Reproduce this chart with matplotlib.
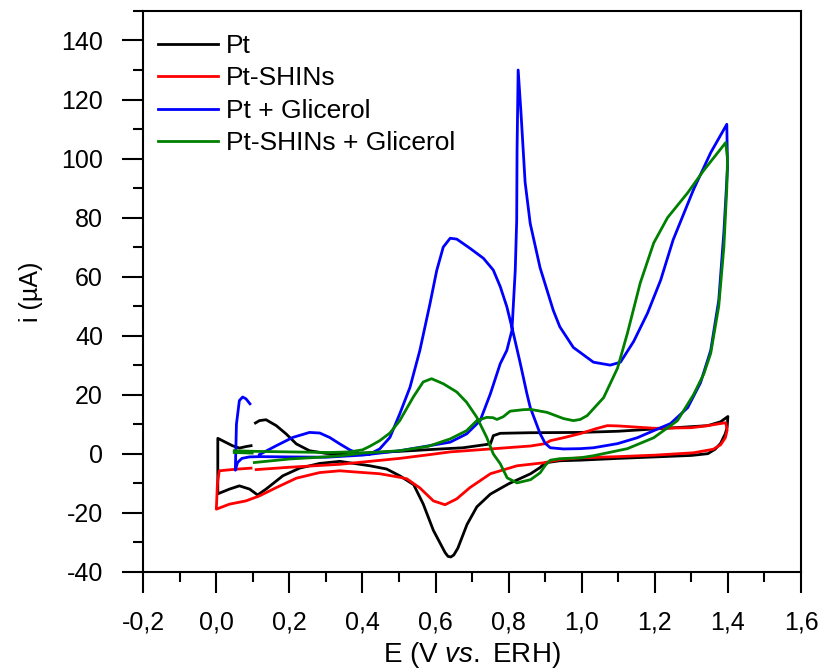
import matplotlib
matplotlib.use('Agg')
import matplotlib.pyplot as plt
from matplotlib.ticker import MultipleLocator, FuncFormatter

plt.rcParams['font.family'] = ['Liberation Sans', 'DejaVu Sans']
plt.rcParams['mathtext.fontset'] = 'custom'
plt.rcParams['mathtext.rm'] = 'Liberation Sans'
plt.rcParams['mathtext.it'] = 'Liberation Sans:italic'

# Pt (black)
pt_E = [0.107, 0.118, 0.136, 0.164, 0.191, 0.219, 0.255, 0.300, 0.338, 0.400, 0.502, 0.600,
        0.675, 0.750, 0.755, 0.758, 0.777, 0.859, 0.996, 1.100, 1.216, 1.345, 1.380, 1.400,
        1.398, 1.393, 1.380, 1.365, 1.345, 1.300, 1.200, 1.100, 0.996, 0.940, 0.900, 0.886,
        0.860, 0.800, 0.750, 0.713, 0.686, 0.661, 0.650, 0.642, 0.634, 0.626, 0.594, 0.566,
        0.540, 0.502, 0.466, 0.420, 0.338, 0.283, 0.228, 0.182, 0.136, 0.113, 0.091, 0.063,
        0.036, 0.004, 0.004, 0.020, 0.044, 0.063, 0.081, 0.095]
pt_i = [10.4, 11.2, 11.5, 9.5, 6.7, 3.3, 1.0, 0.1, -0.1, 0.2, 0.8, 1.5,
        2.0, 3.3, 5.0, 6.1, 6.9, 7.1, 7.2, 7.6, 8.5, 9.5, 10.8, 12.6,
        9.0, 6.8, 3.5, 1.5, 0.0, -0.6, -1.1, -1.6, -2.2, -2.4, -3.1, -4.7,
        -6.8, -10.2, -13.7, -18.0, -24.0, -32.0, -34.3, -35.0, -34.8, -33.5, -26.0, -17.0,
        -10.5, -7.5, -5.2, -4.1, -2.6, -3.3, -4.9, -7.5, -12.0, -14.0, -12.0, -10.9,
        -12.0, -13.6, 5.2, 4.2, 2.7, 1.9, 2.4, 2.7]

# Pt-SHINs (red)
shin_E = [0.109, 0.200, 0.338, 0.420, 0.502, 0.585, 0.640, 0.750, 0.860, 0.900, 0.914, 0.950,
          0.996, 1.040, 1.070, 1.100, 1.125, 1.200, 1.300, 1.345, 1.394, 1.398, 1.393, 1.380,
          1.360, 1.306, 1.200, 1.100, 0.996, 0.940, 0.895, 0.823, 0.750, 0.694, 0.658, 0.626,
          0.594, 0.557, 0.521, 0.502, 0.447, 0.380, 0.338, 0.283, 0.219, 0.164, 0.118, 0.081,
          0.036, 0.000, 0.003, 0.008, 0.050, 0.095]
shin_i = [-5.4, -4.6, -3.6, -2.6, -1.6, -0.3, 0.6, 1.6, 2.6, 3.4, 4.4, 5.4,
          6.8, 8.5, 9.5, 9.4, 9.2, 8.6, 8.8, 9.5, 10.5, 8.0, 5.4, 3.0,
          1.5, 0.3, -0.5, -1.0, -1.4, -2.0, -3.1, -4.1, -6.8, -11.5, -15.3, -17.3,
          -16.0, -11.6, -8.5, -8.0, -6.8, -6.2, -5.8, -6.4, -8.3, -11.5, -14.3, -16.0,
          -17.1, -18.8, -10.0, -5.8, -5.3, -4.9]

# Pt + Glicerol (blue)
gly_E = [0.092, 0.081, 0.072, 0.063, 0.055, 0.052, 0.058, 0.070, 0.090, 0.118, 0.200, 0.300,
         0.400, 0.502, 0.640, 0.685, 0.722, 0.750, 0.777, 0.795, 0.809, 0.818, 0.822, 0.823,
         0.826, 0.834, 0.845, 0.859, 0.886, 0.922, 0.940, 0.977, 1.032, 1.078, 1.106, 1.142,
         1.180, 1.216, 1.250, 1.306, 1.353, 1.397, 1.399, 1.389, 1.375, 1.353, 1.325, 1.290,
         1.243, 1.197, 1.152, 1.098, 1.032, 0.996, 0.950, 0.914, 0.900, 0.886, 0.859, 0.850,
         0.832, 0.813, 0.795, 0.777, 0.758, 0.731, 0.694, 0.658, 0.640, 0.621, 0.603, 0.585,
         0.557, 0.530, 0.502, 0.475, 0.447, 0.420, 0.392, 0.365, 0.338, 0.310, 0.283, 0.255,
         0.209, 0.164, 0.118]
gly_i = [16.9, 18.6, 19.2, 18.0, 10.0, -5.6, -3.0, -1.6, -1.1, -1.0, -1.1, -1.2,
         -0.5, 1.0, 3.9, 6.7, 11.2, 20.3, 30.5, 35.0, 41.8, 62.0, 79.0, 103.0,
         130.0, 115.0, 92.0, 78.0, 63.0, 48.6, 43.0, 36.0, 31.0, 30.0, 31.0, 38.0,
         47.6, 58.8, 72.4, 89.5, 102.0, 111.6, 97.0, 75.0, 52.0, 35.0, 24.0, 15.6,
         10.2, 7.8, 5.4, 3.4, 2.0, 1.7, 1.6, 2.0, 3.5, 6.8, 15.7, 20.3,
         30.5, 40.7, 49.8, 56.6, 62.2, 66.2, 69.6, 72.7, 73.0, 70.0, 62.0, 51.0,
         35.0, 22.5, 13.5, 5.5, 1.6, -0.1, -0.1, 1.3, 3.3, 5.5, 7.0, 7.2,
         5.5, 2.7, -0.3]

# Pt-SHINs + Glicerol (green)
sgly_E = [0.104, 0.200, 0.283, 0.340, 0.400, 0.502, 0.580, 0.640, 0.685, 0.713, 0.740, 0.757,
          0.768, 0.785, 0.804, 0.840, 0.860, 0.905, 0.950, 0.977, 0.996, 1.015, 1.060, 1.098,
          1.125, 1.160, 1.197, 1.235, 1.290, 1.334, 1.394, 1.399, 1.397, 1.389, 1.375, 1.353,
          1.334, 1.306, 1.262, 1.197, 1.125, 1.032, 0.996, 0.940, 0.914, 0.900, 0.886, 0.860,
          0.823, 0.796, 0.777, 0.758, 0.740, 0.713, 0.685, 0.658, 0.621, 0.589, 0.566, 0.539,
          0.502, 0.475, 0.447, 0.420, 0.400, 0.365, 0.310, 0.200, 0.100, 0.049]
sgly_i = [-3.0, -1.8, -1.2, -0.7, 0.2, 1.0, 2.5, 5.0, 7.8, 11.2, 12.3, 12.2,
          11.6, 12.5, 14.4, 14.9, 15.0, 14.0, 11.9, 11.2, 11.6, 12.9, 19.0, 29.0,
          40.8, 57.8, 71.4, 80.0, 88.4, 96.0, 105.4, 100.0, 90.0, 70.0, 50.0, 34.0,
          27.0, 20.0, 11.2, 5.4, 1.7, -0.7, -1.4, -1.7, -2.2, -4.0, -6.5, -8.8,
          -9.9, -8.2, -3.4, -0.1, 5.5, 12.3, 17.4, 20.9, 23.7, 25.4, 24.3, 19.2,
          11.2, 7.0, 4.4, 2.5, 1.3, 0.6, 0.4, 0.6, 0.8, 1.0]
sgly_start_E = [0.049, 0.098]
sgly_start_i = [0.4, 0.2]

fig = plt.figure(figsize=(8.21, 6.69), dpi=100)
ax = fig.add_axes([0.1745, 0.1454, 0.8011, 0.8382])

ax.plot(pt_E, pt_i, color='black', lw=2, label='Pt')
ax.plot(shin_E, shin_i, color='#ff0000', lw=2, label='Pt-SHINs')
ax.plot(gly_E, gly_i, color='#0000ff', lw=2, label='Pt + Glicerol')
ax.plot(sgly_E, sgly_i, color='#008000', lw=2, label='Pt-SHINs + Glicerol')
ax.plot(sgly_start_E, sgly_start_i, color='#008000', lw=2)

ax.set_xlim(-0.2, 1.6)
ax.set_ylim(-40, 150)
ax.xaxis.set_major_locator(MultipleLocator(0.2))
ax.xaxis.set_minor_locator(MultipleLocator(0.1))
ax.yaxis.set_major_locator(MultipleLocator(20))
ax.yaxis.set_minor_locator(MultipleLocator(10))
ax.xaxis.set_major_formatter(FuncFormatter(lambda v, p: f'{v:.1f}'.replace('.', ',').replace('-0,0', '0,0')))
ax.yaxis.set_major_formatter(FuncFormatter(lambda v, p: f'{v:.0f}'))

for s in ax.spines.values():
    s.set_linewidth(1.5)
ax.tick_params(which='major', direction='out', length=15, width=1.5, labelsize=18)
ax.tick_params(which='minor', direction='out', length=7.5, width=1.5)
ax.tick_params(axis='x', which='major', pad=13)
ax.tick_params(axis='y', which='major', pad=14)

ax.set_xlabel('E (V $\\mathit{vs.}$ ERH)', fontsize=20, labelpad=4)
ax.set_ylabel('i (µA)', fontsize=18, labelpad=13)

ax.legend(loc='upper left', bbox_to_anchor=(0.0226, 0.959), frameon=False, fontsize=19,
          handlelength=2.28, handletextpad=0.3, labelspacing=0.32, borderpad=0, borderaxespad=0)

fig.savefig('out.png', dpi=100)
